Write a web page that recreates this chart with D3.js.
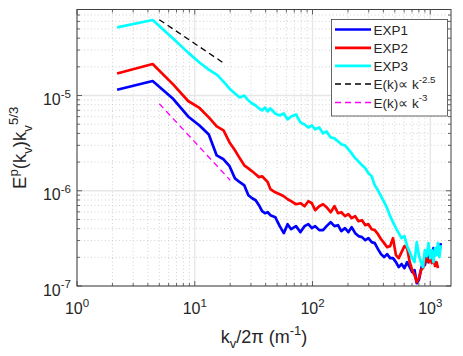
<!DOCTYPE html>
<html>
<head>
<meta charset="utf-8">
<script src="https://cdn.jsdelivr.net/npm/d3@7"></script>
<style>
  body { margin: 0; background: #fff; }
  text { font-family: "Liberation Sans", Arial, Helvetica, sans-serif; fill: #262626; }
</style>
</head>
<body>
<svg id="chart" width="463" height="356"></svg>
<script>
// wavenumber kv/2pi (m^-1), shared by all three runs
const kv = [2.19, 4.39, 6.58, 8.78, 10.97, 13.16, 15.36, 17.55, 19.75, 21.94,
  24.13, 26.33, 28.52, 30.72, 32.91, 35.10, 37.30, 39.49, 41.69, 43.88,
  48.27, 52.66, 57.04, 61.43, 65.82, 72.40, 78.98, 85.57, 92.15, 98.73,
  105.3, 114.1, 122.9, 131.6, 142.6, 153.6, 164.6, 175.5, 188.7, 201.8,
  215.0, 230.4, 245.7, 263.3, 280.8, 298.4, 318.1, 337.9, 359.8, 381.8,
  405.9, 430.0, 456.4, 482.7, 511.2, 539.7, 570.4, 603.4, 636.3, 669.2,
  702.1, 735.0, 767.9, 800.8, 833.7, 866.6, 899.5, 932.5, 965.4, 998.3,
  1031, 1064, 1097, 1130, 1163, 1196, 1229];

const exp1 = [1.15e-5, 1.42e-5, 9.19e-6, 6.03e-6, 4.85e-6, 3.90e-6, 2.35e-6, 2.14e-6, 1.81e-6, 1.35e-6,
  1.23e-6, 1.14e-6, 8.97e-7, 8.35e-7, 7.95e-7, 7.05e-7, 6.10e-7, 5.81e-7, 5.95e-7, 5.54e-7,
  5.28e-7, 4.25e-7, 3.59e-7, 4.46e-7, 3.95e-7, 4.25e-7, 3.68e-7, 4.25e-7, 4.46e-7, 4.05e-7,
  4.25e-7, 3.86e-7, 3.86e-7, 4.25e-7, 4.68e-7, 4.25e-7, 4.35e-7, 3.77e-7, 4.05e-7, 3.68e-7,
  4.15e-7, 3.59e-7, 3.34e-7, 3.26e-7, 3.03e-7, 3.18e-7, 2.89e-7, 2.82e-7, 2.44e-7, 2.16e-7,
  2.01e-7, 2.16e-7, 1.96e-7, 1.96e-7, 1.78e-7, 1.58e-7, 1.70e-7, 1.54e-7, 1.78e-7, 1.58e-7,
  1.40e-7, 1.47e-7, 1.07e-7, 1.16e-7, 1.47e-7, 1.78e-7, 1.66e-7, 2.01e-7, 1.78e-7, 2.27e-7,
  1.96e-7, 2.50e-7, 2.11e-7, 2.38e-7, 2.62e-7, 2.27e-7, 2.82e-7];

const exp2 = [1.70e-5, 2.14e-5, 1.30e-5, 8.76e-6, 7.40e-6, 5.89e-6, 4.74e-6, 4.30e-6, 3.22e-6, 2.66e-6,
  2.19e-6, 1.85e-6, 1.72e-6, 1.60e-6, 1.49e-6, 1.39e-6, 1.42e-6, 1.32e-6, 1.23e-6, 1.04e-6,
  9.64e-7, 9.19e-7, 8.76e-7, 8.15e-7, 7.77e-7, 7.22e-7, 7.40e-7, 6.88e-7, 7.77e-7, 7.40e-7,
  6.25e-7, 6.88e-7, 7.22e-7, 6.72e-7, 5.95e-7, 6.88e-7, 5.81e-7, 5.95e-7, 5.41e-7, 5.68e-7,
  5.15e-7, 5.41e-7, 4.79e-7, 4.91e-7, 4.35e-7, 4.46e-7, 3.95e-7, 3.86e-7, 3.50e-7, 3.10e-7,
  2.82e-7, 2.56e-7, 2.62e-7, 3.18e-7, 2.11e-7, 1.96e-7, 2.27e-7, 2.62e-7, 2.50e-7, 1.78e-7,
  1.47e-7, 1.30e-7, 1.10e-7, 1.21e-7, 1.47e-7, 1.54e-7, 1.78e-7, 1.96e-7, 1.78e-7, 1.96e-7,
  1.74e-7, 1.96e-7, 1.62e-7, 1.78e-7, 1.54e-7];

const exp3 = [5.19e-5, 6.20e-5, 3.95e-5, 2.82e-5, 2.22e-5, 1.87e-5, 1.66e-5, 1.40e-5, 1.18e-5, 1.05e-5,
  9.53e-6, 1.00e-5, 8.86e-6, 8.25e-6, 7.86e-6, 7.31e-6, 6.97e-6, 7.49e-6, 6.80e-6, 7.31e-6,
  6.48e-6, 6.17e-6, 6.48e-6, 5.61e-6, 6.03e-6, 6.32e-6, 5.22e-6, 4.97e-6, 4.62e-6, 4.85e-6,
  4.41e-6, 4.62e-6, 4.00e-6, 4.20e-6, 3.63e-6, 3.55e-6, 3.30e-6, 3.07e-6, 3.00e-6, 2.72e-6,
  2.47e-6, 2.19e-6, 2.04e-6, 1.85e-6, 1.72e-6, 1.53e-6, 1.42e-6, 1.14e-6, 1.01e-6, 8.76e-7,
  7.58e-7, 6.56e-7, 5.41e-7, 4.68e-7, 4.05e-7, 3.59e-7, 3.18e-7, 3.34e-7, 2.62e-7, 2.27e-7,
  1.96e-7, 1.78e-7, 2.89e-7, 2.11e-7, 1.78e-7, 1.58e-7, 2.38e-7, 2.06e-7, 2.82e-7, 1.96e-7,
  2.38e-7, 1.78e-7, 2.50e-7, 2.11e-7, 2.82e-7, 2.01e-7, 2.69e-7];

// reference slopes (end points only)
const slope25K = [5, 18];
const slope25E = [6.25e-5, 2.15e-5];
const slope3K = [5, 20];
const slope3E = [8.2e-6, 1.29e-6];

const seriesNames = ["EXP1", "EXP2", "EXP3"];
const xTicks = [1, 10, 100, 1000];
const yTicks = [1e-7, 1e-6, 1e-5];

const pLeft = 77, pRight = 451, pTop = 9.5, pBottom = 286;
const svg = d3.select("#chart");

const x = d3.scaleLog().domain([1, 1500]).range([pLeft, pRight]);
const y = d3.scaleLog().domain([1e-7, 8e-5]).range([pBottom, pTop]);

// minor positions
const xMinor = [];
xTicks.forEach(d => { for (let m = 2; m <= 9; m++) if (d * m <= 1500) xMinor.push(d * m); });
const yMinor = [];
yTicks.forEach(d => { for (let m = 2; m <= 9; m++) if (d * m <= 8e-5) yMinor.push(d * m); });

const grid = svg.append("g");
grid.selectAll(".xmin").data(xMinor).enter().append("line")
  .attr("x1", d => x(d)).attr("x2", d => x(d)).attr("y1", pTop).attr("y2", pBottom)
  .attr("stroke", "#c8c8c8").attr("stroke-width", 0.8).attr("stroke-dasharray", "1,2.5");
grid.selectAll(".ymin").data(yMinor).enter().append("line")
  .attr("x1", pLeft).attr("x2", pRight).attr("y1", d => y(d)).attr("y2", d => y(d))
  .attr("stroke", "#c8c8c8").attr("stroke-width", 0.8).attr("stroke-dasharray", "1,2.5");
grid.selectAll(".xmaj").data(xTicks).enter().append("line")
  .attr("x1", d => x(d)).attr("x2", d => x(d)).attr("y1", pTop).attr("y2", pBottom)
  .attr("stroke", "#e6e6e6").attr("stroke-width", 1.3);
grid.selectAll(".ymaj").data(yTicks).enter().append("line")
  .attr("x1", pLeft).attr("x2", pRight).attr("y1", d => y(d)).attr("y2", d => y(d))
  .attr("stroke", "#e6e6e6").attr("stroke-width", 1.3);

// data lines
const colors = ["#0000ff", "#ff0000", "#00ffff"];
const line = d3.line().x(d => x(d[0])).y(d => y(d[1]));
[exp1, exp2, exp3].forEach((s, i) => {
  const pts = s.map((v, j) => [kv[j], v]);
  svg.append("path").datum(pts)
    .attr("d", line).attr("fill", "none")
    .attr("stroke", colors[i]).attr("stroke-width", 2.7)
    .attr("stroke-linejoin", "round");
});

svg.append("path").datum(slope25K.map((k, j) => [k, slope25E[j]]))
  .attr("d", line).attr("fill", "none").attr("stroke", "#000")
  .attr("stroke-width", 1.3).attr("stroke-dasharray", "6,4");
svg.append("path").datum(slope3K.map((k, j) => [k, slope3E[j]]))
  .attr("d", line).attr("fill", "none").attr("stroke", "#ff00ff")
  .attr("stroke-width", 1.3).attr("stroke-dasharray", "6,4");

// axes box + inward ticks
const axisColor = "#404040";
svg.append("rect").attr("x", pLeft).attr("y", pTop)
  .attr("width", pRight - pLeft).attr("height", pBottom - pTop)
  .attr("fill", "none").attr("stroke", axisColor).attr("stroke-width", 1);

const ticks = svg.append("g").attr("stroke", axisColor).attr("stroke-width", 0.8);
function xTick(d, len) {
  ticks.append("line").attr("x1", x(d)).attr("x2", x(d)).attr("y1", pBottom).attr("y2", pBottom - len);
  ticks.append("line").attr("x1", x(d)).attr("x2", x(d)).attr("y1", pTop).attr("y2", pTop + len);
}
function yTick(d, len) {
  ticks.append("line").attr("y1", y(d)).attr("y2", y(d)).attr("x1", pLeft).attr("x2", pLeft + len);
  ticks.append("line").attr("y1", y(d)).attr("y2", y(d)).attr("x1", pRight).attr("x2", pRight - len);
}
xTicks.forEach(d => xTick(d, 5));
xMinor.forEach(d => xTick(d, 3));
yTicks.forEach(d => yTick(d, 5));
yMinor.forEach(d => yTick(d, 3));

// text helper: parts with sup/sub
function rich(g, parts, size) {
  let off = 0;
  parts.forEach(p => {
    const target = p.s === "sup" ? -0.45 * size : p.s === "sub" ? 0.3 * size : 0;
    g.append("tspan").text(p.t)
      .attr("dy", target - off)
      .attr("font-size", p.s ? size * 0.72 : size);
    off = target;
  });
}

// tick labels
const tickSize = 16;
xTicks.forEach(d => {
  const t = svg.append("text").attr("x", x(d)).attr("y", 314).attr("text-anchor", "middle");
  rich(t, [{ t: "10" }, { t: String(Math.round(Math.log10(d))), s: "sup" }], tickSize);
});
yTicks.forEach(d => {
  const t = svg.append("text").attr("x", 71).attr("y", y(d) + 9.5).attr("text-anchor", "end");
  rich(t, [{ t: "10" }, { t: String(Math.round(Math.log10(d))), s: "sup" }], tickSize);
});

// axis labels
const xl = svg.append("text").attr("x", (pLeft + pRight) / 2).attr("y", 343).attr("text-anchor", "middle");
rich(xl, [{ t: "k" }, { t: "v", s: "sub" }, { t: "/2\u03c0 (m" }, { t: "-1", s: "sup" }, { t: ")" }], 18);

const yl = svg.append("text").attr("transform", `translate(26,${(pTop + pBottom) / 2}) rotate(-90)`)
  .attr("text-anchor", "middle");
rich(yl, [{ t: "E" }, { t: "p", s: "sup" }, { t: "(k" }, { t: "v", s: "sub" }, { t: ")k" },
  { t: "v", s: "sub" }, { t: "5/3", s: "sup" }], 18.5);

// legend
const lg = svg.append("g");
lg.append("rect").attr("x", 331.5).attr("y", 19.5).attr("width", 116).attr("height", 96.5)
  .attr("fill", "#fff").attr("stroke", axisColor).attr("stroke-width", 0.8);
const legendRows = [
  { parts: [{ t: seriesNames[0] }], color: colors[0], dash: null, w: 2.7 },
  { parts: [{ t: seriesNames[1] }], color: colors[1], dash: null, w: 2.7 },
  { parts: [{ t: seriesNames[2] }], color: colors[2], dash: null, w: 2.7 },
  { parts: [{ t: "E(k)\u221d k" }, { t: "-2.5", s: "sup" }], color: "#000", dash: "6,4", w: 1.3 },
  { parts: [{ t: "E(k)\u221d k" }, { t: "-3", s: "sup" }], color: "#ff00ff", dash: "6,4", w: 1.3 }
];
const rowY = [29.5, 47.8, 65.8, 84, 102.5];
legendRows.forEach((r, i) => {
  lg.append("line").attr("x1", 335).attr("x2", 371).attr("y1", rowY[i]).attr("y2", rowY[i])
    .attr("stroke", r.color).attr("stroke-width", r.w).attr("stroke-dasharray", r.dash);
  const t = lg.append("text").attr("x", 373.5).attr("y", rowY[i] + 5);
  rich(t, r.parts, 13.5);
});
</script>
</body>
</html>
